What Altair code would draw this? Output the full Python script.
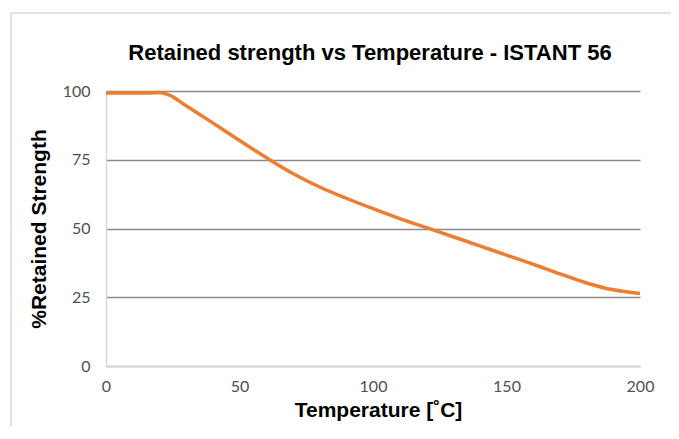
import altair as alt
import pandas as pd

temperature = [0, 10, 16, 20, 24, 29, 40, 50, 60, 70, 80, 90, 100, 110, 120, 130, 140, 150, 160, 170, 180, 190, 200]
retained = [99.3, 99.3, 99.3, 99.5, 98.4, 95.3, 88.4, 82.0, 75.8, 70.0, 65.1, 61.0, 57.2, 53.6, 50.3, 47.0, 43.7, 40.3, 37.0, 33.5, 30.2, 27.7, 26.4]

title_text = "Retained strength vs Temperature - ISTANT 56"

df = pd.DataFrame({"T": temperature, "R": retained})

line = alt.Chart(df).mark_line(color="#ED7D31", strokeWidth=3.5, interpolate="monotone").encode(
    x=alt.X("T:Q", scale=alt.Scale(domain=[0, 200], nice=False),
            axis=alt.Axis(title="Temperature [˚C]", values=[0, 50, 100, 150, 200], grid=False,
                          ticks=False, domainColor="#d9d9d9", domainWidth=1.5, labelFlush=False,
                          labelPadding=12, titlePadding=5, titleX=272, titleAlign="center")),
    y=alt.Y("R:Q", scale=alt.Scale(domain=[0, 100], nice=False),
            axis=alt.Axis(title="%Retained Strength", values=[0, 25, 50, 75, 100],
                          ticks=False, domainColor="#d9d9d9", domainWidth=1.5, labelFlush=False,
                          gridColor="#8a8a8a", gridWidth=1.3, labelPadding=16, titlePadding=13)),
)

one = pd.DataFrame({"a": [0]})

frame = alt.Chart(one).mark_rect(fill=None, stroke="#d9d9d9", strokeWidth=1.5).encode(
    x=alt.value(-95), x2=alt.value(600), y=alt.value(-78), y2=alt.value(400)
)

title = alt.Chart(one).mark_text(font="Liberation Sans", fontSize=22, fontWeight="bold",
                                 color="#000000", baseline="alphabetic", align="center").encode(
    x=alt.value(264), y=alt.value(-31), text=alt.value(title_text)
)

chart = alt.layer(frame, line, title).properties(
    width=534, height=275,
    autosize=alt.AutoSizeParams(type="none"),
    padding={"left": 98, "top": 83, "right": 31, "bottom": 60},
).configure_view(stroke=None).configure_axis(
    labelFont="Lato", labelFontSize=16, labelColor="#505050",
    titleFont="Liberation Sans", titleFontSize=21, titleFontWeight="bold", titleColor="#000000",
)

chart.save("out.html", embed_options={"renderer": "svg", "actions": False})
